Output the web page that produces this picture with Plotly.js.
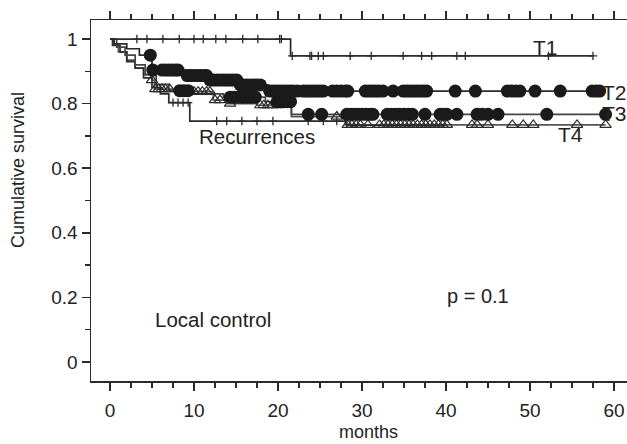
<!DOCTYPE html>
<html>
<head>
<meta charset="utf-8">
<script src="https://cdn.plot.ly/plotly-3.0.1.min.js"></script>
<style>html,body{margin:0;padding:0;background:#fff;}#chart{width:627px;height:444px;}</style>
</head>
<body>
<div id="chart"></div>
<script>
// ---- Kaplan-Meier step data (months, cumulative survival) ----
const t1Times = [0, 21.5, 57.5];
const t1Surv  = [1.0, 0.948, 0.948];
const t1Cens  = [3.2, 4.4, 6.3, 8.25, 10.0, 11.1, 12.6, 13.8, 15.8, 17.6, 20.2, 20.4,
                 21.7, 23.8, 24.0, 24.8, 25.4, 28.6, 31.1, 34.9, 37.1, 38.3, 41.3, 42.3, 52.2, 57.5];

const recTimes = [0, 0.3, 1.2, 2.0, 3.0, 4.0, 5.0, 6.0, 7.0, 9.5, 28.2, 40];
const recSurv  = [1.0, 0.98, 0.96, 0.93, 0.91, 0.88, 0.85, 0.83, 0.803, 0.746, 0.733, 0.733];
const recCens  = [7.5, 8.1, 8.7, 9.3, 12.7, 13.9, 15.7, 17.5, 19.4, 23.6, 25.4, 27.0];

const t2Times = [0, 0.5, 2.0, 3.5, 5.0, 9.0, 11.8, 15.3, 18.8, 59];
const t2Surv  = [1.0, 0.985, 0.97, 0.95, 0.904, 0.887, 0.873, 0.858, 0.839, 0.839];
const t2Cens  = [4.8, 5.1, 6.2, 6.6, 7.0, 7.4, 7.8, 8.1, 9.2, 9.6, 10.0, 10.4, 10.8, 11.2, 11.5,
                 11.9, 12.3, 12.7, 13.1, 13.5, 13.9, 14.3, 14.7, 15.1, 15.5, 15.9, 16.3, 16.7, 17.1,
                 17.5, 17.9, 19.0, 19.4, 19.8, 20.2, 20.6, 21.0, 21.4, 21.8, 22.3, 23.0, 23.4, 23.8,
                 24.2, 24.6, 25.0, 25.4, 26.5, 27.0, 27.5, 28.0, 28.3, 30.4, 30.8, 31.2, 31.6, 32.0,
                 32.5, 33.7, 34.9, 35.3, 35.7, 36.1, 36.5, 36.9, 37.3, 37.7, 41.1, 43.5, 47.3, 47.8,
                 48.3, 48.8, 50.6, 53.6, 57.4, 57.9, 58.3];

const t3Times = [0, 0.8, 1.8, 3.0, 4.2, 5.5, 7.0, 10.0, 13.5, 18.5, 21.6, 59];
const t3Surv  = [1.0, 0.975, 0.95, 0.92, 0.89, 0.86, 0.84, 0.83, 0.82, 0.806, 0.767, 0.767];
const t3Cens  = [8.3, 8.8, 9.3, 14.3, 14.8, 15.3, 15.8, 16.3, 16.8, 17.3, 19.9, 20.3, 20.7, 21.1,
                 21.5, 23.6, 25.2, 28.2, 28.6, 29.0, 29.5, 30.0, 30.5, 31.0, 31.3, 33.0, 33.5, 34.0,
                 34.5, 35.0, 35.5, 36.0, 37.5, 39.3, 39.7, 40.1, 41.3, 43.7, 44.3, 45.0, 46.2, 52.0, 59.0];

const t4Times = [0, 0.4, 1.0, 2.0, 3.0, 4.0, 5.0, 5.3, 8.5, 12.3, 14.0, 17.5, 21.6, 28.0, 59];
const t4Surv  = [1.0, 0.985, 0.96, 0.935, 0.91, 0.89, 0.873, 0.845, 0.837, 0.811, 0.80, 0.795, 0.76, 0.734, 0.734];
const t4Cens  = [5.0, 5.4, 5.8, 6.2, 6.6, 7.1, 9.5, 10.0, 10.5, 11.0, 11.5, 11.9, 12.5, 13.1, 14.3,
                 17.9, 18.3, 18.8, 19.3, 19.9, 27.0, 28.3, 28.8, 29.3, 29.8, 30.7, 32.1, 32.6, 33.1,
                 33.6, 34.1, 34.6, 35.1, 35.6, 36.1, 36.6, 37.1, 37.6, 38.1, 38.6, 39.1, 39.6, 40.1,
                 43.1, 43.7, 45.0, 47.9, 49.2, 50.4, 55.6, 59.0];

const xTicks = [0, 10, 20, 30, 40, 50, 60];
const yTicks = [0, 0.2, 0.4, 0.6, 0.8, 1];

// step-function lookup for censor marks
function stepAt(times, surv, t) {
  let v = surv[0];
  for (let i = 0; i < times.length; i++) { if (times[i] <= t) v = surv[i]; }
  return v;
}

const ink = '#2b2b2b';
function lineTrace(times, surv, color) {
  return {x: times, y: surv, type: 'scatter', mode: 'lines', line: {shape: 'hv', color: color, width: 1.7},
          hoverinfo: 'skip', showlegend: false};
}
function markTrace(cens, times, surv, marker) {
  return {x: cens, y: cens.map(t => stepAt(times, surv, t)), type: 'scatter', mode: 'markers',
          marker: marker, hoverinfo: 'skip', showlegend: false};
}

const plusM = {symbol: 'cross-thin', size: 6, line: {color: ink, width: 1.3}};
const circM = {symbol: 'circle', size: 13, color: '#1a1a1a', line: {width: 0}};
const triM  = {symbol: 'triangle-up-open', size: 10, color: '#2b2b2b', line: {color: '#2b2b2b', width: 1.2}};

const data = [
  lineTrace(t4Times, t4Surv, '#555'),
  lineTrace(recTimes, recSurv, ink),
  lineTrace(t3Times, t3Surv, '#444'),
  lineTrace(t2Times, t2Surv, ink),
  lineTrace(t1Times, t1Surv, ink),
  markTrace(t1Cens, t1Times, t1Surv, plusM),
  markTrace(recCens, recTimes, recSurv, plusM),
  markTrace(t4Cens, t4Times, t4Surv, triM),
  markTrace(t3Cens, t3Times, t3Surv, circM),
  markTrace(t2Cens, t2Times, t2Surv, circM)
];

const fam = 'Liberation Sans, Arial, sans-serif';
const font = {family: fam, size: 19, color: '#222'};
function ann(text, x, y, size) {
  return {text: text, x: x, y: y, xref: 'x', yref: 'y', showarrow: false,
          font: {family: fam, size: size || 21, color: '#222'}};
}
function pann(text, x, y, size, angle) {
  return {text: text, x: x, y: y, xref: 'paper', yref: 'paper', xanchor: 'center', yanchor: 'middle',
          showarrow: false, textangle: angle || 0, font: {family: fam, size: size, color: '#222'}};
}
// paper coords from pixel positions: plot area x 91..627, y 20..381
const W = 627 - 91, H = 381 - 20;

const layout = {
  width: 627, height: 444,
  margin: {l: 91, r: 0, t: 20, b: 63, pad: 0},
  paper_bgcolor: '#fff', plot_bgcolor: '#fff',
  font: font,
  showlegend: false,
  xaxis: {
    range: [-2.26, 61.55], tickvals: xTicks, ticks: 'outside', ticklen: 8, tickwidth: 1.5, tickcolor: ink,
    showline: true, linecolor: ink, linewidth: 1.5, mirror: 'ticks', showgrid: false, zeroline: false,
    minor: {dtick: 2.5, tick0: 0, ticks: 'outside', ticklen: 5, tickwidth: 1.2, tickcolor: ink},
    tickfont: {size: 19}, ticklabelstandoff: 4
  },
  yaxis: {
    range: [-0.059, 1.059], tickvals: yTicks, ticks: 'outside', ticklen: 8, tickwidth: 1.5, tickcolor: ink,
    showline: true, linecolor: ink, linewidth: 1.5, mirror: false, showgrid: false, zeroline: false,
    minor: {dtick: 0.1, tick0: 0, ticks: 'outside', ticklen: 5, tickwidth: 1.2, tickcolor: ink},
    tickfont: {size: 19}
  },
  annotations: [
    pann('months', (368 - 91) / W, (381 - 432) / H, 18, 0),
    pann('Cumulative survival', (18 - 91) / W, (381 - 170) / H, 18, -90),
    ann('T1', 51.8, 0.975),
    ann('T2', 60.1, 0.836),
    ann('T3', 60.1, 0.768),
    ann('T4', 54.8, 0.703),
    ann('Recurrences', 17.5, 0.697, 20.5),
    ann('Local control', 12.3, 0.13, 20.5),
    ann('p = 0.1', 43.8, 0.205, 20)
  ]
};

Plotly.newPlot('chart', data, layout, {staticPlot: true, displayModeBar: false});
</script>
</body>
</html>
